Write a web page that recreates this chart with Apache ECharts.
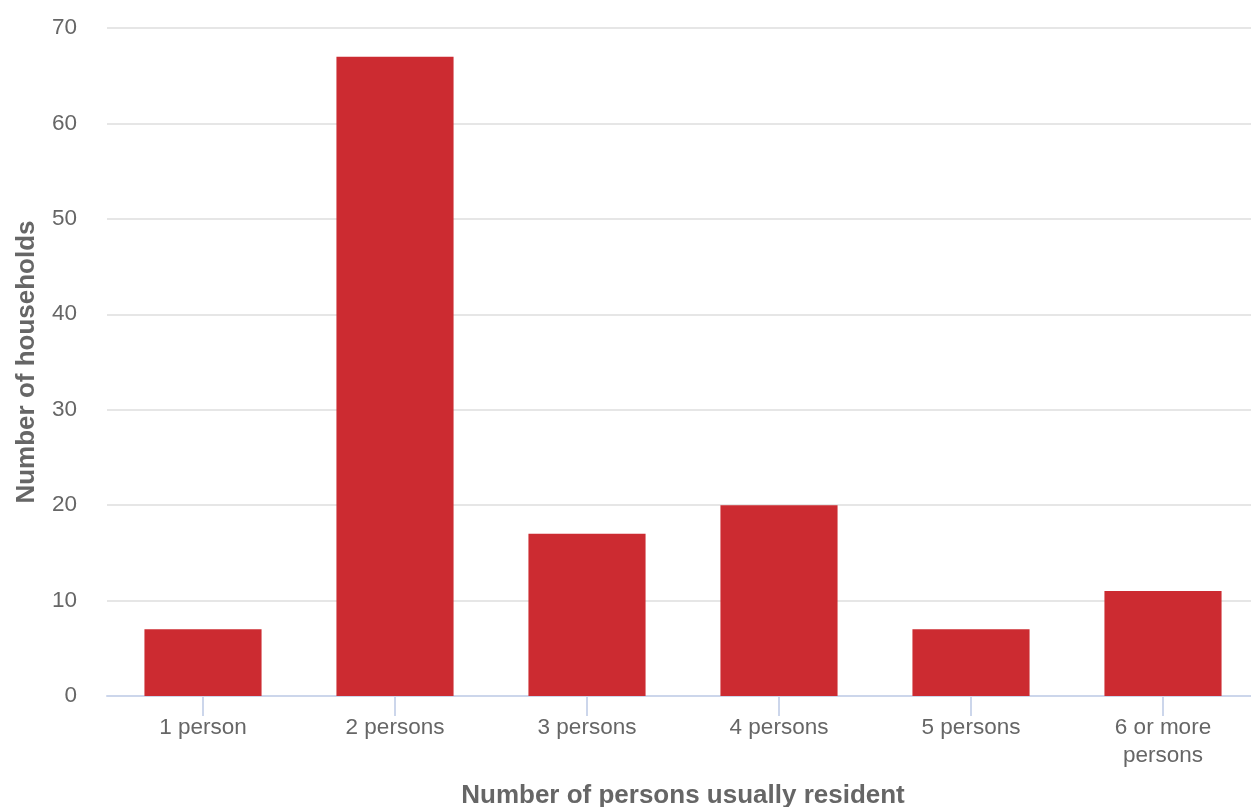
<!DOCTYPE html>
<html>
<head>
<meta charset="utf-8">
<script src="https://cdn.jsdelivr.net/npm/echarts@6/dist/echarts.min.js"></script>
<style>
html,body{margin:0;padding:0;background:#fff;overflow:hidden;}
#chart{width:1259px;height:807px;}
</style>
</head>
<body>
<div id="chart"></div>
<script>
const categories = ['1 person', '2 persons', '3 persons', '4 persons', '5 persons', '6 or more\npersons'];
const households = [7, 67, 17, 20, 7, 11];
const yTicks = [0, 10, 20, 30, 40, 50, 60, 70];

const chart = echarts.init(document.getElementById('chart'));
const font = '"Liberation Sans", Arial, Helvetica, sans-serif';
chart.setOption({
  animation: false,
  textStyle: { fontFamily: font },
  grid: { left: 107, right: 0, top: 28, bottom: 111, containLabel: false, outerBoundsMode: 'none' },
  xAxis: {
    type: 'category',
    data: categories,
    name: 'Number of persons usually resident',
    nameLocation: 'middle',
    nameGap: 87,
    nameTextStyle: { fontSize: 26, fontWeight: 'bold', color: '#666666', fontFamily: font },
    axisLine: { lineStyle: { color: '#ccd6eb', width: 2 } },
    axisTick: { show: true, alignWithLabel: true, length: 20, lineStyle: { color: '#ccd6eb', width: 2 } },
    axisLabel: { fontSize: 22.5, color: '#666666', margin: 18, lineHeight: 28, fontFamily: font },
    splitLine: { show: false }
  },
  yAxis: {
    type: 'value',
    min: yTicks[0],
    max: yTicks[yTicks.length - 1],
    interval: 10,
    name: 'Number of households',
    nameLocation: 'middle',
    nameRotate: 90,
    nameGap: 67,
    nameTextStyle: { fontSize: 26, fontWeight: 'bold', color: '#666666', fontFamily: font },
    axisLine: { show: false },
    axisTick: { show: false },
    axisLabel: { fontSize: 22.5, color: '#666666', margin: 30, fontFamily: font },
    splitLine: { lineStyle: { color: '#e6e6e6', width: 2 } }
  },
  series: [{
    type: 'bar',
    data: households,
    barWidth: '61%',
    itemStyle: { color: '#cc2b31' }
  }]
});
</script>
</body>
</html>
